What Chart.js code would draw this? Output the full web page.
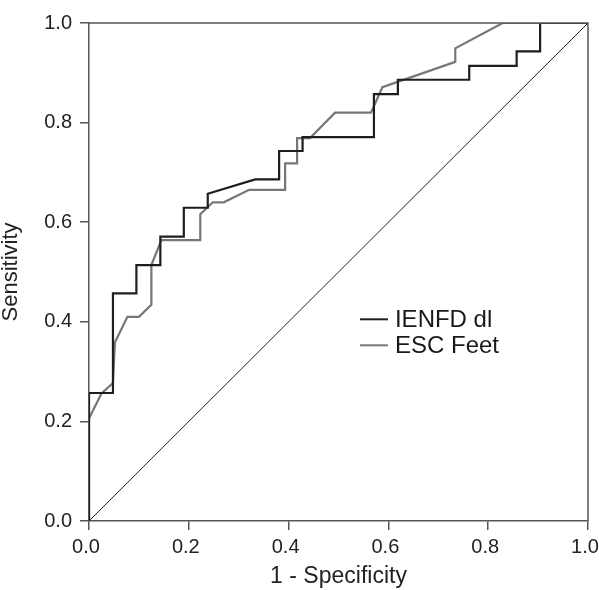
<!DOCTYPE html>
<html>
<head>
<meta charset="utf-8">
<script src="https://cdn.jsdelivr.net/npm/chart.js@4/dist/chart.umd.min.js"></script>
<style>
  html, body { margin: 0; padding: 0; background: #fff; }
  #wrap { width: 599px; height: 590px; position: relative; }
</style>
</head>
<body>
<div id="wrap"><canvas id="c" width="599" height="590"></canvas></div>
<script>
// ----- data -----
const seriesLabels = ["IENFD dl", "ESC Feet"];
const ienfdX = [0, 0, 0.048, 0.048, 0.095, 0.095, 0.143, 0.143, 0.190, 0.190, 0.238, 0.238, 0.333, 0.381, 0.381, 0.428, 0.428, 0.571, 0.571, 0.619, 0.619, 0.762, 0.762, 0.857, 0.857, 0.904, 0.904, 1.0];
const ienfdY = [0, 0.257, 0.257, 0.457, 0.457, 0.514, 0.514, 0.571, 0.571, 0.629, 0.629, 0.657, 0.686, 0.686, 0.743, 0.743, 0.771, 0.771, 0.857, 0.857, 0.886, 0.886, 0.914, 0.914, 0.943, 0.943, 1.0, 1.0];
const escX = [0, 0, 0.025, 0.048, 0.052, 0.077, 0.100, 0.125, 0.125, 0.145, 0.223, 0.223, 0.248, 0.270, 0.321, 0.393, 0.393, 0.417, 0.417, 0.443, 0.493, 0.565, 0.588, 0.734, 0.734, 0.829, 1.0];
const escY = [0, 0.206, 0.256, 0.277, 0.359, 0.410, 0.410, 0.434, 0.514, 0.564, 0.564, 0.616, 0.640, 0.640, 0.665, 0.665, 0.718, 0.718, 0.769, 0.769, 0.820, 0.820, 0.871, 0.922, 0.949, 1.0, 1.0];
const refX = [0, 1];
const refY = [0, 1];
const tickValues = [0, 0.2, 0.4, 0.6, 0.8, 1.0];
const xTitle = "1 - Specificity";
const yTitle = "Sensitivity";

const toPts = (xs, ys) => xs.map((x, i) => ({ x: x, y: ys[i] }));
const FONT = "'Liberation Sans', Arial, Helvetica, sans-serif";
const AXIS_COLOR = '#555';

const framePlugin = {
  id: 'frame',
  afterDatasetsDraw(chart) {
    const a = chart.chartArea, ctx = chart.ctx;
    ctx.save();
    ctx.strokeStyle = AXIS_COLOR;
    ctx.lineWidth = 1.5;
    ctx.beginPath();
    ctx.moveTo(a.left, a.top);
    ctx.lineTo(a.right, a.top);
    ctx.lineTo(a.right, a.bottom);
    ctx.stroke();
    ctx.restore();
  }
};

const legendPlugin = {
  id: 'innerLegend',
  afterDraw(chart) {
    const ctx = chart.ctx;
    const xs = chart.scales.x, ys = chart.scales.y;
    const x0 = xs.getPixelForValue(0.543);
    const yTop = ys.getPixelForValue(0.405);
    const rowH = 26;
    ctx.save();
    ctx.font = '24px ' + FONT;
    ctx.textBaseline = 'middle';
    ctx.fillStyle = '#1a1a1a';
    seriesLabels.forEach((lab, i) => {
      const ds = chart.data.datasets[i];
      const y = yTop + i * rowH;
      ctx.strokeStyle = ds.borderColor;
      ctx.lineWidth = 2;
      ctx.beginPath();
      ctx.moveTo(x0, y);
      ctx.lineTo(x0 + 28, y);
      ctx.stroke();
      ctx.fillText(lab, x0 + 35, y + 1);
    });
    ctx.restore();
  }
};

new Chart(document.getElementById('c'), {
  type: 'line',
  data: {
    datasets: [
      { label: seriesLabels[0], data: toPts(ienfdX, ienfdY), borderColor: '#1e1e1e', borderWidth: 2.2, pointRadius: 0, tension: 0, fill: false, order: 1 },
      { label: seriesLabels[1], data: toPts(escX, escY), borderColor: '#777777', borderWidth: 2.2, pointRadius: 0, tension: 0, fill: false, order: 2 },
      { label: 'ref', data: toPts(refX, refY), borderColor: '#222', borderWidth: 1, pointRadius: 0, tension: 0, fill: false, order: 3 }
    ]
  },
  options: {
    responsive: false,
    animation: false,
    layout: { autoPadding: false, padding: { top: 23, right: 11, left: 0, bottom: 0 } },
    plugins: { legend: { display: false }, tooltip: { enabled: false } },
    scales: {
      x: {
        type: 'linear', min: 0, max: 1,
        afterFit(s) { s.height = 69; s.paddingLeft = 0; s.paddingRight = 0; },
        afterBuildTicks(s) { s.ticks = tickValues.map(v => ({ value: v })); },
        ticks: { callback: v => Number(v).toFixed(1), font: { family: FONT, size: 20 }, color: '#222', padding: 5, maxRotation: 0, labelOffset: -3 },
        grid: { drawOnChartArea: false, drawTicks: true, tickLength: 9, color: AXIS_COLOR, lineWidth: 1.5 },
        border: { color: AXIS_COLOR, width: 1.5 },
        title: { display: true, text: xTitle, font: { family: FONT, size: 23, lineHeight: 1.2 }, color: '#222', padding: 0 }
      },
      y: {
        type: 'linear', min: 0, max: 1,
        afterFit(s) { s.width = 89; s.paddingTop = 0; s.paddingBottom = 0; },
        afterBuildTicks(s) { s.ticks = tickValues.map(v => ({ value: v })); },
        ticks: { callback: v => Number(v).toFixed(1), font: { family: FONT, size: 20 }, color: '#222', padding: 8 },
        grid: { drawOnChartArea: false, drawTicks: true, tickLength: 9, color: AXIS_COLOR, lineWidth: 1.5 },
        border: { color: AXIS_COLOR, width: 1.5 },
        title: { display: true, text: yTitle, font: { family: FONT, size: 22, lineHeight: 1.0 }, color: '#222', padding: 0 }
      }
    }
  },
  plugins: [framePlugin, legendPlugin]
});
</script>
</body>
</html>
